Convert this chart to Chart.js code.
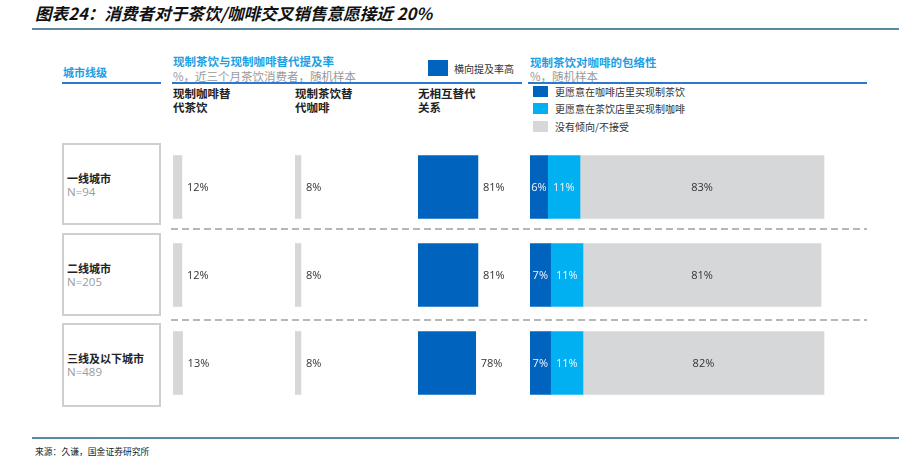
<!DOCTYPE html>
<html>
<head>
<meta charset="utf-8">
<script src="https://cdn.jsdelivr.net/npm/chart.js@4.4.1/dist/chart.umd.min.js"></script>
<style>
  body { margin: 0; background: #fff; }
  #page { position: relative; width: 905px; height: 456px; overflow: hidden; font-family: 'Noto Sans CJK SC', sans-serif; color: #222; }
  .t { position: absolute; white-space: nowrap; }
  .blue { color: #1d9fe4; font-weight: bold; font-size: 11.5px; line-height: 14px; }
  .sub { color: #9a9a9a; font-size: 11.5px; line-height: 14px; }
  .colhead { font-weight: bold; font-size: 11.5px; line-height: 14px; color: #222; }
  .rule { position: absolute; height: 2px; background: #2a78cf; }
  .box { position: absolute; border: 2px solid #cfcfcf; box-sizing: border-box; }
  .sq { position: absolute; }
  .legtxt { font-size: 10px; line-height: 12px; color: #333; }
  .chart { position: absolute; top: 143px; height: 264px; }
</style>
</head>
<body>
<div id="page">
  <div class="t" style="left:35px;top:3px;font-size:16.6px;line-height:20px;font-weight:bold;font-style:italic;color:#111;">图表24：消费者对于茶饮/咖啡交叉销售意愿接近 20%</div>
  <div style="position:absolute;left:32px;top:28px;width:867px;height:2px;background:#5b8aa0;"></div>

  <div class="t blue" style="left:63px;top:65px;font-size:11px;">城市线级</div>
  <div class="rule" style="left:62px;top:82px;width:99px;"></div>

  <div class="t blue" style="left:173px;top:54px;">现制茶饮与现制咖啡替代提及率</div>
  <div class="t sub" style="left:173px;top:69px;">%，近三个月茶饮消费者，随机样本</div>
  <div class="rule" style="left:172px;top:82px;width:350px;"></div>

  <div class="sq" style="left:428px;top:60px;width:20px;height:16px;background:#0063be;"></div>
  <div class="t legtxt" style="left:454px;top:63px;">横向提及率高</div>

  <div class="t blue" style="left:530px;top:55px;">现制茶饮对咖啡的包络性</div>
  <div class="t sub" style="left:530px;top:69px;">%，随机样本</div>
  <div class="rule" style="left:528px;top:82px;width:339px;"></div>

  <div class="t colhead" style="left:173px;top:86px;">现制咖啡替<br>代茶饮</div>
  <div class="t colhead" style="left:295px;top:86px;">现制茶饮替<br>代咖啡</div>
  <div class="t colhead" style="left:418px;top:86px;">无相互替代<br>关系</div>

  <div id="legend2"></div>
  <div id="rows"></div>

  <svg style="position:absolute;left:0;top:0;" width="905" height="456">
    <line x1="171" y1="229" x2="867" y2="229" stroke="#a0a0a0" stroke-width="1.6" stroke-dasharray="7,4"/>
    <line x1="171" y1="320" x2="867" y2="320" stroke="#a0a0a0" stroke-width="1.6" stroke-dasharray="7,4"/>
  </svg>

  <div class="chart" style="left:173px;width:120px;"><canvas id="c1"></canvas></div>
  <div class="chart" style="left:295px;width:120px;"><canvas id="c2"></canvas></div>
  <div class="chart" style="left:418px;width:110px;"><canvas id="c3"></canvas></div>
  <div class="chart" style="left:530px;width:300px;"><canvas id="c4"></canvas></div>

  <div style="position:absolute;left:32px;top:437px;width:867px;height:2px;background:#5b8aa0;"></div>
  <div class="t" style="left:35px;top:446px;font-size:8.8px;line-height:12px;color:#222;">来源：久谦，国金证券研究所</div>
</div>

<script>
const cities = ['一线城市', '二线城市', '三线及以下城市'];
const sampleSizes = ['N=94', 'N=205', 'N=489'];

// 替代提及率
const coffeeForTea = [12, 12, 13];
const teaForCoffee = [8, 8, 8];
const noSubstitute = [81, 81, 78];

// 包络性
const teaAtCoffeeShop = [6, 7, 7];
const coffeeAtTeaShop = [11, 11, 11];
const noPreference = [83, 81, 82];

const legendNames = ['更愿意在咖啡店里买现制茶饮', '更愿意在茶饮店里买现制咖啡', '没有倾向/不接受'];

const DARK = '#0063be';
const LIGHT = '#00b0f0';
const GREY = '#d6d7d9';

// row boxes + labels
const rowsEl = document.getElementById('rows');
const boxTops = [143, 233, 323];
const boxHeights = [82, 83, 84];
cities.forEach((c, i) => {
    const mid = boxTops[i] + 35;
    rowsEl.insertAdjacentHTML('beforeend',
        `<div class="box" style="left:62px;top:${boxTops[i]}px;width:99px;height:${boxHeights[i]}px;"></div>
         <div class="t" style="left:67px;top:${mid - 7}px;font-size:11px;line-height:14px;font-weight:bold;color:#222;">${c}</div>
         <div class="t" style="left:67px;top:${mid + 7}px;font-size:11.5px;line-height:14px;color:#9a9a9a;font-family:'Open Sans';">${sampleSizes[i]}</div>`);
});

// legend for stacked chart
const legEl = document.getElementById('legend2');
[DARK, LIGHT, GREY].forEach((col, i) => {
    const top = [86, 103, 121][i];
    legEl.insertAdjacentHTML('beforeend',
        `<div class="sq" style="left:533px;top:${top}px;width:15px;height:11px;background:${col};"></div>
         <div class="t legtxt" style="left:555px;top:${top}px;">${legendNames[i]}</div>`);
});

const valueLabels = {
    id: 'valueLabels',
    afterDatasetsDraw(chart, args, opts) {
        const ctx = chart.ctx;
        ctx.save();
        ctx.font = '11px "Open Sans"';
        ctx.textBaseline = 'middle';
        chart.data.datasets.forEach((ds, i) => {
            const meta = chart.getDatasetMeta(i);
            meta.data.forEach((bar, j) => {
                const text = ds.data[j] + '%';
                if (opts.inside) {
                    ctx.fillStyle = opts.colors[i];
                    ctx.textAlign = 'center';
                    ctx.fillText(text, (bar.x + bar.base) / 2, bar.y + 1);
                } else {
                    ctx.fillStyle = '#333';
                    ctx.textAlign = 'left';
                    ctx.fillText(text, bar.x + 5, bar.y + 1);
                }
            });
        });
        ctx.restore();
    }
};

function makeChart(id, datasets, pxPerPct, width, inside, colors) {
    new Chart(document.getElementById(id), {
        type: 'bar',
        data: { labels: cities, datasets: datasets },
        options: {
            indexAxis: 'y',
            responsive: true,
            maintainAspectRatio: false,
            animation: false,
            layout: { padding: 0 },
            datasets: { bar: { barThickness: 63 } },
            scales: {
                x: { display: false, min: 0, max: width / pxPerPct, stacked: true },
                y: { display: false, stacked: true }
            },
            plugins: {
                legend: { display: false },
                tooltip: { enabled: false },
                valueLabels: { inside: inside, colors: colors }
            }
        },
        plugins: [valueLabels]
    });
}

makeChart('c1', [{ data: coffeeForTea, backgroundColor: GREY }], 0.74, 120, false);
makeChart('c2', [{ data: teaForCoffee, backgroundColor: GREY }], 0.74, 120, false);
makeChart('c3', [{ data: noSubstitute, backgroundColor: DARK }], 0.74, 110, false);
makeChart('c4', [
    { data: teaAtCoffeeShop, backgroundColor: DARK },
    { data: coffeeAtTeaShop, backgroundColor: LIGHT },
    { data: noPreference, backgroundColor: GREY }
], 2.94, 300, true, ['#f2f6fb', '#f2f6fb', '#333']);
</script>
</body>
</html>
